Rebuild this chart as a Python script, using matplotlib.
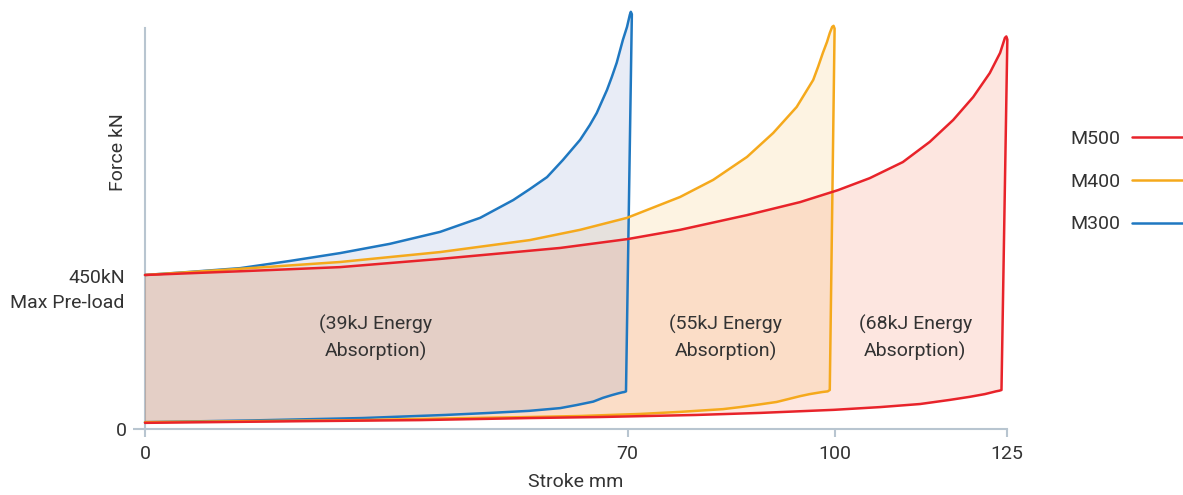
import matplotlib
matplotlib.use("Agg")
import matplotlib.pyplot as plt

plt.rcParams['font.family'] = ['Roboto', 'DejaVu Sans']

# ---------------- data (stroke mm, force kN) ----------------
series_names = ["M500", "M400", "M300"]
line_colors = {"M500": "#e8232a", "M400": "#f5a91c", "M300": "#1f78c1"}
fill_colors = {"M500": "#f45a30", "M400": "#f5a623", "M300": "#6580c3"}
fill_alpha = {"M500": 0.15, "M400": 0.13, "M300": 0.15}

# loading curves (compression), ending at the peak and the drop
m300_load_x = [0, 6.5, 13.8, 21.0, 28.3, 35.5, 42.8, 48.6, 53.4, 55.8, 58.3, 60.6, 63.1, 64.5,
               65.5, 67.0, 67.7, 68.4, 69.3, 69.9, 70.3, 70.45, 70.6]
m300_load_y = [450, 459, 470, 491, 514, 541, 576, 617, 669, 701, 736, 786, 845, 888,
               923, 991, 1029, 1070, 1137, 1175, 1210, 1219, 1212]
m400_load_x = [0, 15.2, 28.3, 42.8, 55.8, 63.1, 69.9, 77.6, 82.4, 87.3, 91.1, 94.5, 96.9,
               97.6, 98.3, 98.9, 99.3, 99.65, 99.85, 100.0]
m400_load_y = [450, 470, 488, 517, 552, 582, 617, 678, 728, 795, 865, 941, 1020,
               1058, 1099, 1131, 1157, 1175, 1178, 1170]
m500_load_x = [0, 15.2, 28.3, 42.8, 60.2, 70.0, 77.6, 87.3, 95.0, 100.5, 105.1, 109.9, 113.8,
               117.2, 120.1, 122.5, 124.0, 124.7, 124.9, 125.05]
m500_load_y = [450, 462, 473, 497, 529, 555, 582, 625, 663, 698, 733, 780, 839,
               903, 970, 1040, 1099, 1143, 1147, 1138]

# unloading curves (return), from end of stroke back to 0
m300_unload_x = [69.75, 69.5, 69.2, 68.6, 67.7, 66.4, 65.0, 62.6, 60.2, 55.7, 50.0, 43.5, 31.5, 15.4, 0]
m300_unload_y = [110, 108, 107, 104, 99, 91, 80, 70, 61, 53, 47, 41, 32, 25, 20]
m400_unload_x = [99.3, 99.0, 98.2, 96.4, 95.0, 94.0, 91.6, 89.2, 86.3, 83.8, 77.6, 71.8, 63.1,
                 55.7, 44.2, 31.5, 15.2, 0]
m400_unload_y = [114, 110, 108, 102, 96, 91, 79, 72, 64, 58, 50, 44, 38, 35, 31, 26, 23, 20]
m500_unload_x = [124.2, 123.9, 123.4, 121.8, 119.6, 116.7, 112.4, 106.6, 99.9, 89.2, 79.9, 66.0,
                 55.7, 39.9, 23.5, 0]
m500_unload_y = [114, 112, 110, 102, 94, 85, 73, 64, 56, 47, 41, 35, 32, 26, 23, 18]

load_x = {"M300": m300_load_x, "M400": m400_load_x, "M500": m500_load_x}
load_y = {"M300": m300_load_y, "M400": m400_load_y, "M500": m500_load_y}
unload_x = {"M300": m300_unload_x, "M400": m400_unload_x, "M500": m500_unload_x}
unload_y = {"M300": m300_unload_y, "M400": m400_unload_y, "M500": m500_unload_y}

energy_labels = ["(39kJ Energy\nAbsorption)", "(55kJ Energy\nAbsorption)", "(68kJ Energy\nAbsorption)"]
energy_x = [33.5, 84.2, 111.7]
energy_y = [266, 266, 266]

x_ticks = [0, 70, 100, 125]
x_tick_labels = ["0", "70", "100", "125"]

# ---------------- figure ----------------
W, H = 1183, 495
fig = plt.figure(figsize=(W / 100, H / 100), dpi=100)
ax = fig.add_axes([145 / W, 66 / H, 862 / W, 427.8 / H])
ax.set_xlim(0, 125)
ax.set_ylim(0, 1250)

text_color = "#333333"
axis_color = "#b8c5d0"

# fills (closed loops)
for name in ["M500", "M400", "M300"]:
    px = list(load_x[name]) + list(unload_x[name])
    py = list(load_y[name]) + list(unload_y[name])
    ax.fill(px, py, color=fill_colors[name], alpha=fill_alpha[name], lw=0, clip_on=False, zorder=1)

# lines
handles = {}
for name in ["M300", "M400", "M500"]:
    px = list(load_x[name]) + list(unload_x[name])
    py = list(load_y[name]) + list(unload_y[name])
    ln, = ax.plot(px, py, color=line_colors[name], lw=1.8, clip_on=False, zorder=3,
                  solid_joinstyle='round', solid_capstyle='round', label=name)
    handles[name] = ln

# energy labels
for lab, xx, yy in zip(energy_labels, energy_x, energy_y):
    ax.text(xx, yy, lab, ha='center', va='center', fontsize=14, color=text_color,
            linespacing=1.5, zorder=4)

# spines
for s in ["top", "right"]:
    ax.spines[s].set_visible(False)
for s in ["left", "bottom"]:
    ax.spines[s].set_color(axis_color)
    ax.spines[s].set_linewidth(1.5)
ax.spines["left"].set_bounds(0, 1172)
ax.spines["left"].set_zorder(0.5)

ax.set_xticks(x_ticks)
ax.set_xticklabels(x_tick_labels)
ax.set_yticks([0])
ax.set_yticklabels(["0"])
ax.tick_params(axis='x', length=5.8, width=1.5, color=axis_color, pad=5.5,
               labelsize=14, labelcolor=text_color)
ax.tick_params(axis='y', length=8.6, width=1.5, color=axis_color, pad=4.3,
               labelsize=14, labelcolor=text_color)

# 450kN annotation
ax.annotate("450kN", xy=(0, 450), xycoords='data', xytext=(-14.5, -2), textcoords='offset points',
            ha='right', va='center', fontsize=14, color=text_color, annotation_clip=False)
ax.annotate("Max Pre-load", xy=(0, 450), xycoords='data', xytext=(-14.5, -20), textcoords='offset points',
            ha='right', va='center', fontsize=14, color=text_color, annotation_clip=False)

# axis labels
ax.set_xlabel("Stroke mm", fontsize=14, color=text_color)
ax.xaxis.set_label_coords(0.5, -0.103)
ax.text((118 - 145) / 862, (429 - 152) / 427.8, "Force kN", rotation=90, ha='center', va='center',
        fontsize=14, color=text_color, transform=ax.transAxes)

# legend
leg = fig.legend([handles[n] for n in series_names], series_names, loc='upper right',
                 bbox_to_anchor=(1.0, 1 - 130 / H), frameon=False, markerfirst=False,
                 fontsize=14, handlelength=2.62, handletextpad=0.62, labelspacing=1.27,
                 borderpad=0, borderaxespad=0)
for t in leg.get_texts():
    t.set_color(text_color)

fig.savefig("out.png", dpi=100)
